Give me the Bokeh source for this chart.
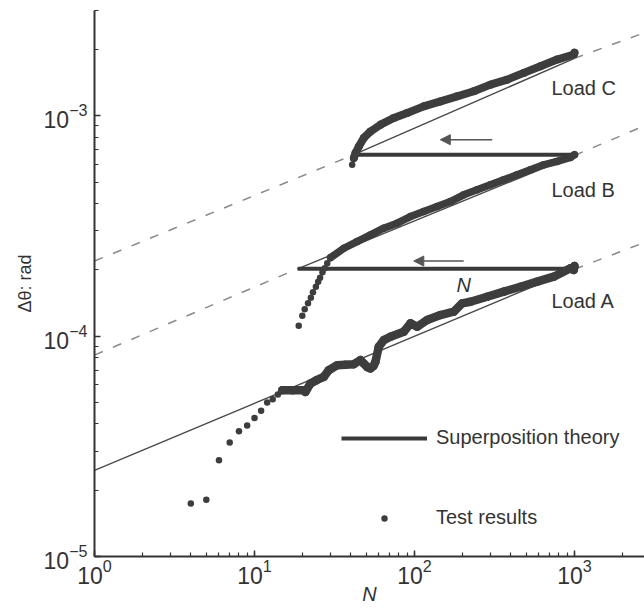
from bokeh.plotting import figure
from bokeh.models import LogTicker, Arrow, NormalHead, Legend, LegendItem
from bokeh.embed import file_html
from bokeh.resources import INLINE
from bokeh.core.properties import value

# ---------------- data ----------------
# Load A test results
a_sparse_N = [4, 5, 6, 7, 8, 9, 10, 11, 12, 13, 14]
a_sparse_theta = [1.74e-5, 1.81e-5, 2.73e-5, 3.29e-5, 3.70e-5, 3.93e-5, 4.25e-5,
                  4.59e-5, 5.0e-5, 5.17e-5, 5.43e-5]
a_dense_N = [14.9, 17.3, 20.3, 20.8, 22.4, 24.4, 27.1, 29.1, 32.9, 37.0, 41.7, 46.0,
             48.2, 50.8, 53.0, 55.4, 57.0, 59.8, 64.3, 70.8, 85.7, 94.4, 103.9, 120,
             145.3, 176, 198.6, 223.9, 284.6, 361.6, 459.8, 584.6, 742.5, 944, 990, 1000]
a_dense_theta = [5.68e-5, 5.68e-5, 5.68e-5, 5.58e-5, 6.1e-5, 6.31e-5, 6.53e-5, 7.0e-5,
                 7.38e-5, 7.42e-5, 7.46e-5, 7.78e-5, 7.51e-5, 7.23e-5, 7.13e-5, 7.31e-5,
                 7.64e-5, 8.94e-5, 9.59e-5, 9.93e-5, 1.046e-4, 1.142e-4, 1.102e-4,
                 1.182e-4, 1.246e-4, 1.29e-4, 1.408e-4, 1.432e-4, 1.509e-4, 1.59e-4,
                 1.675e-4, 1.766e-4, 1.86e-4, 2.031e-4, 1.995e-4, 2.08e-4]

# Load B test results
b_sparse_N = [18.9, 19.9, 20.6, 21.6, 22.5, 23.2, 24.2, 25.0, 25.7, 26.6, 27.5, 28.5]
b_sparse_theta = [1.114e-4, 1.237e-4, 1.322e-4, 1.408e-4, 1.493e-4, 1.58e-4, 1.675e-4,
                  1.766e-4, 1.841e-4, 1.948e-4, 2.031e-4, 2.14e-4]
b_dense_N = [29.9, 36.2, 43.8, 53.1, 64.3, 78.0, 94.4, 114.3, 138.6, 167.9, 203.3,
             246.5, 298.5, 361.6, 438.5, 530.9, 642.7, 779.3, 944, 1000]
b_dense_theta = [2.27e-4, 2.503e-4, 2.683e-4, 2.877e-4, 3.087e-4, 3.253e-4, 3.486e-4,
                 3.673e-4, 3.870e-4, 4.078e-4, 4.375e-4, 4.609e-4, 4.858e-4, 5.12e-4,
                 5.394e-4, 5.682e-4, 5.987e-4, 6.198e-4, 6.464e-4, 6.648e-4]

# Load C test results
c_sparse_N = [40.8]
c_sparse_theta = [5.99e-4]
c_dense_N = [41.8, 42.8, 44.9, 48.2, 53.1, 61.3, 74.2, 90.0, 114.3, 145.3, 184.9,
             234.8, 298.5, 379.6, 482, 613, 779, 990, 1000]
c_dense_theta = [6.42e-4, 6.77e-4, 7.25e-4, 7.92e-4, 8.48e-4, 9.10e-4, 9.76e-4,
                 1.029e-3, 1.102e-3, 1.161e-3, 1.224e-3, 1.290e-3, 1.383e-3, 1.457e-3,
                 1.563e-3, 1.675e-3, 1.797e-3, 1.894e-3, 1.93e-3]

# Single-load power-law curves (solid part, dashed extensions)
theory_solid_N = [[1, 1000], [18.6, 1000], [41.8, 1000]]
theory_solid_theta = [[2.46e-5, 2.01e-4], [2.02e-4, 6.6e-4], [6.65e-4, 1.82e-3]]
theory_dash_N = [[1, 18.6], [1, 41.8], [1000, 2740], [1000, 2740], [1000, 2740]]
theory_dash_theta = [[8.2e-5, 2.02e-4], [2.19e-4, 6.65e-4], [2.01e-4, 2.66e-4],
                     [6.6e-4, 9.0e-4], [1.82e-3, 2.38e-3]]

# Superposition theory: horizontal transfer lines
superpos_N = [[18.6, 1000], [41.8, 1000]]
superpos_theta = [[2.02e-4, 2.02e-4], [6.65e-4, 6.65e-4]]

# annotation text
load_labels = ["Load C", "Load B", "Load A"]
load_label_theta = [1.34e-3, 4.61e-4, 1.443e-4]
load_label_N = 718

arrow_N_start = [306, 203]
arrow_N_end = [145, 99]
arrow_theta = [7.78e-4, 2.19e-4]

# ---------------- figure ----------------
INK = "#333333"
DOT = "#3d3d3d"
FONT = "Liberation Sans"

p = figure(width=644, height=610, x_axis_type="log", y_axis_type="log",
           x_range=(1, 2740), y_range=(1e-5, 3e-3),
           min_border_left=94, min_border_right=0, min_border_top=10,
           min_border_bottom=54, output_backend="svg", toolbar_location=None)
p.outline_line_color = None
p.grid.visible = False
p.background_fill_color = "white"

for ax in (p.xaxis[0], p.yaxis[0]):
    ax.ticker = LogTicker(num_minor_ticks=10)
    ax.axis_line_color = INK
    ax.axis_line_width = 2
    ax.major_tick_line_color = INK
    ax.minor_tick_line_color = INK
    ax.major_tick_line_width = 1.5
    ax.minor_tick_line_width = 1.2
    ax.major_tick_in = 6
    ax.major_tick_out = 0
    ax.minor_tick_in = 4
    ax.minor_tick_out = 0
    ax.major_label_text_font = FONT
    ax.major_label_text_font_size = "23px"
    ax.major_label_text_color = INK
    ax.axis_label_text_font = FONT
    ax.axis_label_text_color = INK

p.xaxis.axis_label = "N"
p.xaxis.axis_label_text_font_style = "italic"
p.xaxis.axis_label_text_font_size = "20px"
p.xaxis.axis_label_standoff = -4
p.xaxis.major_label_standoff = 2

p.yaxis.axis_label = "Δθ: rad"
p.yaxis.axis_label_text_font_style = "normal"
p.yaxis.axis_label_text_font_size = "18px"
p.yaxis.axis_label_standoff = 6
p.yaxis.major_label_standoff = 7

# dashed extensions
p.multi_line(theory_dash_N, theory_dash_theta, line_color="#8a8a8a", line_width=1.5,
             line_dash="9 11")
# thin solid theory curves
p.multi_line(theory_solid_N, theory_solid_theta, line_color="#4a4a4a", line_width=1.4)
# superposition horizontal lines
sup = p.multi_line(superpos_N, superpos_theta, line_color="#3a3a3a", line_width=4)

# test results
for n, t, w in ((a_dense_N, a_dense_theta, 8.5), (b_dense_N, b_dense_theta, 7.5),
                (c_dense_N, c_dense_theta, 8)):
    p.line(n, t, line_color=DOT, line_width=w, line_join="round", line_cap="round")
    p.scatter(n, t, marker="circle", size=w, fill_color=DOT, line_color=None)
dots = p.scatter(a_sparse_N, a_sparse_theta, marker="circle", size=6.5,
                 fill_color=DOT, line_color=None)
p.scatter(b_sparse_N, b_sparse_theta, marker="circle", size=6.5, fill_color=DOT, line_color=None)
p.scatter(c_sparse_N, c_sparse_theta, marker="circle", size=6.5, fill_color=DOT, line_color=None)

# load labels
p.text(x=[load_label_N] * 3, y=load_label_theta, text=load_labels,
       text_font=value(FONT), text_font_size="20px", text_color=INK,
       text_align="left", text_baseline="middle")
# N label under the lower transfer line
p.text(x=[203], y=[1.706e-4], text=["N"], text_font=value(FONT), text_font_size="20px",
       text_font_style="italic", text_color=INK, text_align="center", text_baseline="middle")

# arrows
for xs, xe, yy in zip(arrow_N_start, arrow_N_end, arrow_theta):
    p.add_layout(Arrow(x_start=xs, y_start=yy, x_end=xe, y_end=yy,
                       line_color="#555555", line_width=1.5,
                       end=NormalHead(size=10, fill_color="#555555", line_color="#555555")))

legend = Legend(items=[LegendItem(label="Superposition theory", renderers=[sup]),
                       LegendItem(label="Test results", renderers=[dots])],
                location=(247, 27), padding=0, margin=0, spacing=57,
                glyph_width=86, glyph_height=16, label_standoff=9,
                label_text_font=FONT, label_text_font_size="20px", label_text_color=INK,
                border_line_alpha=0, background_fill_alpha=0)
p.add_layout(legend)

open("out.html", "w").write(file_html(p, INLINE))
